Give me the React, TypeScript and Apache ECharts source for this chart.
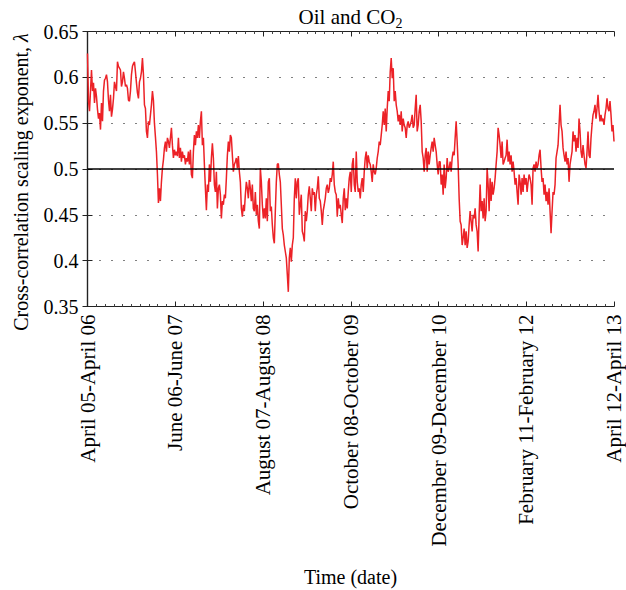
import React, { useEffect, useRef } from "react";
import * as echarts from "echarts";

// Cross-correlation scaling exponent (lambda), Oil and CO2, rolling 1-year windows,
// sampled uniformly along the time axis (months since the April 05-April 06 window).
const lambdaPart1 = [
  0.626, 0.574, 0.563, 0.585, 0.608, 0.585, 0.594, 0.572, 0.588, 0.579,
  0.565, 0.555, 0.561, 0.543, 0.572, 0.552, 0.585, 0.597, 0.599, 0.603,
  0.595, 0.575, 0.563, 0.581, 0.557, 0.565, 0.577, 0.595, 0.59, 0.585,
  0.617, 0.612, 0.61, 0.608, 0.59, 0.595, 0.606, 0.599, 0.59, 0.592,
  0.588, 0.575, 0.574, 0.585, 0.603, 0.612, 0.615, 0.617, 0.606, 0.594,
  0.583, 0.577, 0.595, 0.599, 0.606, 0.621, 0.603, 0.57, 0.566, 0.541,
  0.534, 0.552, 0.548, 0.559, 0.57, 0.585, 0.575, 0.55, 0.535, 0.519,
  0.494, 0.463, 0.479, 0.465, 0.486, 0.501, 0.51, 0.523, 0.53, 0.519,
  0.534, 0.53, 0.523,
];
const lambdaPart2 = [
  0.534, 0.545, 0.526, 0.512, 0.521, 0.515, 0.519, 0.514, 0.534, 0.512,
  0.523, 0.508, 0.519, 0.512, 0.515, 0.505, 0.512, 0.508, 0.519, 0.505,
  0.521, 0.494, 0.49, 0.519, 0.537, 0.526, 0.541, 0.534, 0.548, 0.534,
  0.552, 0.563, 0.526, 0.534, 0.505, 0.479, 0.455, 0.483, 0.475, 0.505,
  0.486, 0.512, 0.528, 0.512, 0.483, 0.475, 0.497, 0.457, 0.479, 0.483,
  0.472, 0.446, 0.465, 0.461, 0.472, 0.468, 0.49, 0.515, 0.53, 0.519,
  0.537, 0.534, 0.515, 0.497, 0.505, 0.508, 0.512, 0.501, 0.514, 0.497,
  0.486, 0.457, 0.448, 0.461, 0.454, 0.472, 0.486, 0.479, 0.468, 0.488,
  0.479, 0.465, 0.483, 0.457, 0.454, 0.475, 0.45, 0.461, 0.443, 0.435,
];
const lambdaPart3 = [
  0.501, 0.486, 0.461, 0.446, 0.457, 0.446, 0.468, 0.443, 0.486, 0.49,
  0.454, 0.459, 0.439, 0.425, 0.419, 0.454, 0.486, 0.505, 0.506, 0.494,
  0.486, 0.461, 0.435, 0.428, 0.417, 0.41, 0.403, 0.385, 0.366, 0.403,
  0.414, 0.399, 0.417, 0.425, 0.468, 0.49, 0.468, 0.486, 0.49, 0.45,
  0.461, 0.472, 0.432, 0.428, 0.421, 0.454, 0.443, 0.454, 0.472, 0.481,
  0.468, 0.454, 0.479, 0.472, 0.475, 0.454, 0.472, 0.479, 0.492, 0.468,
  0.465, 0.454, 0.439, 0.455, 0.461, 0.468, 0.479, 0.483, 0.474, 0.479,
  0.49, 0.486, 0.494, 0.508, 0.483, 0.475, 0.472, 0.448, 0.468, 0.457,
  0.461, 0.45, 0.441, 0.468, 0.479, 0.455, 0.468, 0.457, 0.475, 0.49,
];
const lambdaPart4 = [
  0.497, 0.475, 0.505, 0.512, 0.483, 0.475, 0.519, 0.486, 0.475, 0.479,
  0.468, 0.483, 0.49, 0.475, 0.497, 0.512, 0.519, 0.501, 0.515, 0.508,
  0.505, 0.497, 0.486, 0.505, 0.497, 0.494, 0.501, 0.512, 0.519, 0.53,
  0.526, 0.537, 0.548, 0.563, 0.548, 0.566, 0.541, 0.566, 0.585, 0.574,
  0.606, 0.621, 0.599, 0.61, 0.574, 0.585, 0.57, 0.563, 0.552, 0.559,
  0.548, 0.563, 0.541, 0.555, 0.548, 0.545, 0.534, 0.548, 0.552, 0.545,
  0.548, 0.552, 0.559, 0.545, 0.548, 0.566, 0.581, 0.541, 0.548, 0.563,
  0.57, 0.552, 0.519, 0.512, 0.497, 0.515, 0.523, 0.497, 0.519, 0.505,
  0.515, 0.523, 0.53, 0.519, 0.534, 0.526, 0.519, 0.505, 0.494, 0.508,
];
const lambdaPart5 = [
  0.508, 0.483, 0.494, 0.472, 0.505, 0.479, 0.49, 0.512, 0.497, 0.501,
  0.508, 0.497, 0.512, 0.519, 0.515, 0.534, 0.552, 0.53, 0.505, 0.468,
  0.443, 0.439, 0.417, 0.425, 0.435, 0.417, 0.432, 0.414, 0.421, 0.439,
  0.454, 0.443, 0.432, 0.45, 0.446, 0.457, 0.439, 0.432, 0.41, 0.45,
  0.483, 0.454, 0.465, 0.446, 0.468, 0.443, 0.454, 0.501, 0.483, 0.454,
  0.49, 0.465, 0.486, 0.472, 0.479, 0.49, 0.505, 0.519, 0.545, 0.537,
  0.526, 0.512, 0.53, 0.505, 0.508, 0.512, 0.515, 0.532, 0.508, 0.519,
  0.505, 0.515, 0.497, 0.508, 0.497, 0.483, 0.49, 0.475, 0.461, 0.494,
  0.486, 0.472, 0.49, 0.475, 0.494, 0.483, 0.49, 0.475, 0.486, 0.494,
];
const lambdaPart6 = [
  0.49, 0.483, 0.461, 0.501, 0.505, 0.497, 0.508, 0.501, 0.505, 0.515,
  0.521, 0.501, 0.486, 0.49, 0.472, 0.483, 0.465, 0.475, 0.461, 0.479,
  0.454, 0.43, 0.454, 0.475, 0.472, 0.483, 0.512, 0.519, 0.526, 0.548,
  0.57, 0.548, 0.541, 0.523, 0.515, 0.508, 0.519, 0.505, 0.512, 0.486,
  0.505, 0.512, 0.519, 0.541, 0.53, 0.537, 0.519, 0.534, 0.523, 0.555,
  0.541, 0.519, 0.512, 0.526, 0.515, 0.505, 0.501, 0.519, 0.541, 0.515,
  0.512, 0.534, 0.548, 0.559, 0.563, 0.57, 0.555, 0.566, 0.581, 0.563,
  0.552, 0.559, 0.552, 0.555, 0.548, 0.559, 0.566, 0.577, 0.566, 0.563,
  0.574, 0.559, 0.541, 0.548, 0.53,
];

const windowLabels = [
  "April 05-April 06",
  "June 06-June 07",
  "August 07-August 08",
  "October 08-October 09",
  "December 09-December 10",
  "February 11-February 12",
  "April 12-April 13",
];
const monthsPerLabel = 14;
const spanMonths = 84;
const yTicks = { min: 0.35, max: 0.65, step: 0.05 };
const referenceLevel = 0.5;

const SERIF = "'Liberation Serif', 'DejaVu Serif', 'Times New Roman', serif";

export default function App() {
  const ref = useRef<HTMLDivElement>(null);
  useEffect(() => {
    if (!ref.current) return;
    const chart = echarts.init(ref.current, null, { renderer: "svg" });
    const values = [
      ...lambdaPart1,
      ...lambdaPart2,
      ...lambdaPart3,
      ...lambdaPart4,
      ...lambdaPart5,
      ...lambdaPart6,
    ];
    const n = values.length;
    const lineData = values.map((v, i) => [(i * spanMonths) / (n - 1), v]);

    const axisLine = { show: true, lineStyle: { color: "#222", width: 1.2 } };
    const xCommon = {
      type: "value",
      min: 0,
      max: spanMonths,
      interval: monthsPerLabel,
      axisLine,
      axisTick: { show: true, inside: true, length: 5, lineStyle: { color: "#222" } },
      minorTick: { show: true, splitNumber: 10, length: 2.5, lineStyle: { color: "#444" } },
      splitLine: { show: false },
      minorSplitLine: { show: false },
    };
    const yCommon = {
      type: "value",
      min: yTicks.min,
      max: yTicks.max,
      interval: yTicks.step,
      axisLine,
      axisTick: { show: true, inside: true, length: 5, lineStyle: { color: "#222" } },
    };

    chart.setOption({
      animation: false,
      grid: { left: 87.5, top: 31.5, width: 526.5, height: 275, containLabel: false },
      xAxis: [
        {
          ...xCommon,
          position: "bottom",
          axisLabel: {
            rotate: 90,
            margin: 8,
            color: "#000",
            fontFamily: SERIF,
            fontSize: 21,
            showMinLabel: true,
            showMaxLabel: true,
            formatter: (v: number) => windowLabels[Math.round(v / monthsPerLabel)] ?? "",
          },
        },
        { ...xCommon, position: "top", axisLabel: { show: false } },
      ],
      yAxis: [
        {
          ...yCommon,
          position: "left",
          axisLabel: {
            margin: 9,
            color: "#000",
            fontFamily: SERIF,
            fontSize: 20,
            formatter: (v: number) => String(Math.round(v * 100) / 100),
          },
          splitLine: { show: true, lineStyle: { color: "#000", width: 1, type: [1, 11] } },
        },
        {
          ...yCommon,
          position: "right",
          axisLabel: { show: false },
          splitLine: { show: false },
        },
      ],
      series: [
        {
          type: "line",
          data: lineData,
          showSymbol: false,
          symbol: "none",
          lineStyle: { color: "#ec2227", width: 1.5 },
          silent: true,
        },
        {
          type: "line",
          data: [
            [0, referenceLevel],
            [spanMonths, referenceLevel],
          ],
          showSymbol: false,
          symbol: "none",
          lineStyle: { color: "#000", width: 1.4 },
          silent: true,
        },
      ],
      graphic: [
        {
          type: "text",
          x: 350.5,
          y: 17,
          style: {
            text: "{m|Oil and CO}{s|2}",
            align: "center",
            verticalAlign: "middle",
            rich: {
              m: { fontFamily: SERIF, fontSize: 21, fill: "#000", verticalAlign: "top", lineHeight: 22 },
              s: { fontFamily: SERIF, fontSize: 14, fill: "#000", verticalAlign: "top", lineHeight: 14, padding: [10, 0, 0, 0] },
            },
          },
        },
        {
          type: "text",
          x: 21,
          y: 182,
          rotation: Math.PI / 2,
          style: {
            text: "{n|Cross-correlation scaling exponent, }{l|λ}",
            align: "center",
            verticalAlign: "middle",
            rich: {
              n: { fontFamily: SERIF, fontSize: 20, fill: "#000" },
              l: { fontFamily: SERIF, fontSize: 20, fill: "#000", fontStyle: "italic" },
            },
          },
        },
        {
          type: "text",
          x: 350.5,
          y: 577,
          style: {
            text: "Time (date)",
            align: "center",
            verticalAlign: "middle",
            fontFamily: SERIF,
            fontSize: 20,
            fill: "#000",
          },
        },
      ],
    });
    return () => chart.dispose();
  }, []);
  return (
    <div
      ref={ref}
      style={{ position: "absolute", left: 0, top: 0, width: 626, height: 590, background: "#fff" }}
    />
  );
}
